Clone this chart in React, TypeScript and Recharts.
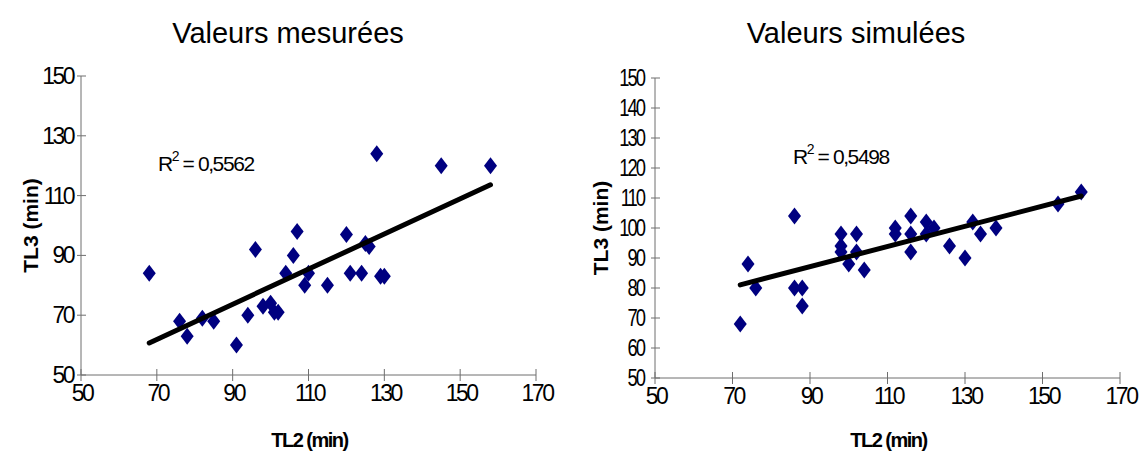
import React from "react";
import { Scatter, ScatterChart, XAxis, YAxis } from "recharts";

// measured values (TL2, TL3) in minutes
const mesuresTL2 = [68, 76, 78, 82, 85, 91, 94, 96, 98, 100, 101, 102, 104, 106, 107, 109, 110, 115, 120, 121, 124, 125, 126, 128, 129, 130, 145, 158];
const mesuresTL3 = [84, 68, 63, 69, 68, 60, 70, 92, 73, 74, 71, 71, 84, 90, 98, 80, 84, 80, 97, 84, 84, 94, 93, 124, 83, 83, 120, 120];

// simulated values
const simulesTL2 = [72, 74, 76, 86, 86, 88, 88, 98, 98, 98, 100, 102, 102, 104, 112, 112, 116, 116, 116, 120, 120, 122, 126, 130, 132, 134, 138, 154, 160];
const simulesTL3 = [68, 88, 80, 104, 80, 80, 74, 98, 94, 92, 88, 98, 92, 86, 100, 98, 104, 98, 92, 102, 98, 100, 94, 90, 102, 98, 100, 108, 112];

const xTicks = [50, 70, 90, 110, 130, 150, 170];
const mesuresYTicks = [50, 70, 90, 110, 130, 150];
const simulesYTicks = [50, 60, 70, 80, 90, 100, 110, 120, 130, 140, 150];

const r2Mesures = "0,5562";
const r2Simules = "0,5498";

const FONT = "'Liberation Sans', Arial, sans-serif";
const AXIS = "#6e6e6e";
const NAVY = "#000080";

type Pt = { x: number; y: number };

const toPoints = (xs: number[], ys: number[]): Pt[] => xs.map((x, i) => ({ x, y: ys[i] }));

// least squares trend line over the data range
function trend(xs: number[], ys: number[]): Pt[] {
  const n = xs.length;
  const mx = xs.reduce((a, b) => a + b, 0) / n;
  const my = ys.reduce((a, b) => a + b, 0) / n;
  let sxy = 0;
  let sxx = 0;
  xs.forEach((x, i) => {
    sxy += (x - mx) * (ys[i] - my);
    sxx += (x - mx) * (x - mx);
  });
  const b = sxy / sxx;
  const a = my - b * mx;
  const x0 = Math.min(...xs);
  const x1 = Math.max(...xs);
  return [
    { x: x0, y: a + b * x0 },
    { x: x1, y: a + b * x1 },
  ];
}

const Diamond = (props: any) => {
  const { cx, cy } = props;
  if (cx == null || cy == null) return <g />;
  return (
    <polygon
      points={`${cx},${cy - 8.5} ${cx + 6.5},${cy} ${cx},${cy + 8.5} ${cx - 6.5},${cy}`}
      fill={NAVY}
    />
  );
};

const YTick = (props: any) => {
  const { x, y, payload, tickSize, tickMargin, sx } = props;
  const ax = x + tickSize + tickMargin;
  return (
    <g>
      <line x1={ax} x2={ax + 5} y1={y} y2={y} stroke={AXIS} />
      <text
        transform={`translate(${x},${y}) scale(${sx},1)`}
        textAnchor="end"
        dy={8}
        fontFamily={FONT}
        fontSize={23}
        letterSpacing={-2.5}
        fill="#000"
      >
        {payload.value}
      </text>
    </g>
  );
};

const XTick = (props: any) => {
  const { x, y, payload, tickSize, tickMargin } = props;
  const ay = y - tickSize - tickMargin;
  return (
    <g>
      <line x1={x} x2={x} y1={ay} y2={ay - 6} stroke={AXIS} />
      <text
        x={x + 1}
        y={y}
        dy={19}
        textAnchor="middle"
        fontFamily={FONT}
        fontSize={23}
        letterSpacing={-2.5}
        fill="#000"
      >
        {payload.value}
      </text>
    </g>
  );
};

function Panel({
  left,
  width,
  margin,
  xs,
  ys,
  yTicks,
  title,
  titleX,
  yLabelX,
  r2,
  r2X,
  r2Y,
  yTickMargin,
  ySx,
}: {
  left: number;
  width: number;
  margin: { top: number; right: number; bottom: number; left: number };
  xs: number[];
  ys: number[];
  yTicks: number[];
  title: string;
  titleX: number;
  yLabelX: number;
  r2: string;
  r2X: number;
  r2Y: number;
  yTickMargin: number;
  ySx: number;
}) {
  const plotLeft = margin.left + 60;
  const plotRight = width - margin.right;
  const plotTop = margin.top;
  const plotBottom = 475 - margin.bottom - 30;
  return (
    <div style={{ position: "absolute", left, top: 0, width, height: 475 }}>
      <ScatterChart width={width} height={475} margin={margin}>
        <XAxis
          type="number"
          dataKey="x"
          domain={[50, 170]}
          ticks={xTicks}
          interval={0}
          height={30}
          tickSize={6}
          tickMargin={1}
          stroke={AXIS}
          tickLine={{ stroke: AXIS }}
          tick={(p: any) => <XTick {...p} tickSize={6} tickMargin={1} />}
        />
        <YAxis
          type="number"
          dataKey="y"
          domain={[50, 150]}
          ticks={yTicks}
          interval={0}
          width={60}
          tickSize={4}
          tickMargin={yTickMargin}
          stroke={AXIS}
          tickLine={{ stroke: AXIS }}
          tick={(p: any) => <YTick {...p} tickSize={4} tickMargin={yTickMargin} sx={ySx} />}
        />
        <Scatter data={toPoints(xs, ys)} shape={Diamond} isAnimationActive={false} />
        <Scatter
          data={trend(xs, ys)}
          shape={() => <g />}
          line={{ stroke: "#000", strokeWidth: 5, strokeLinecap: "round" }}
          lineType="joint"
          isAnimationActive={false}
        />
      </ScatterChart>
      <svg
        width={width}
        height={475}
        style={{ position: "absolute", left: 0, top: 0, pointerEvents: "none" }}
      >
        <text x={titleX} y={43} textAnchor="middle" fontFamily={FONT} fontSize={29} fill="#000">
          {title}
        </text>
        <text
          transform={`translate(${yLabelX},${(plotTop + plotBottom) / 2}) rotate(-90)`}
          textAnchor="middle"
          dominantBaseline="central"
          fontFamily={FONT}
          fontSize={21}
          fontWeight="bold"
          fill="#000"
        >
          TL3 (min)
        </text>
        <text
          x={(plotLeft + plotRight) / 2 + 1}
          y={447}
          textAnchor="middle"
          fontFamily={FONT}
          fontSize={20}
          fontWeight="bold"
          letterSpacing={-1.5}
          fill="#000"
        >
          TL2 (min)
        </text>
        <text
          x={r2X}
          y={r2Y}
          fontFamily={FONT}
          fontSize={21}
          letterSpacing={-1.4}
          fill="#000"
        >
          R
          <tspan dx={0} dy={-10} fontSize={14}>
            2
          </tspan>
          <tspan dy={10}> = {r2}</tspan>
        </text>
      </svg>
    </div>
  );
}

export default function App() {
  return (
    <div
      style={{
        position: "absolute",
        left: 0,
        top: 0,
        width: 1139,
        height: 475,
        background: "#fff",
        overflow: "hidden",
      }}
    >
      <Panel
        left={0}
        width={560}
        margin={{ top: 76, right: 24, bottom: 70, left: 21 }}
        xs={mesuresTL2}
        ys={mesuresTL3}
        yTicks={mesuresYTicks}
        title="Valeurs mesurées"
        titleX={288}
        yLabelX={30}
        r2={r2Mesures}
        r2X={158}
        r2Y={171}
        yTickMargin={4}
        ySx={1}
      />
      <Panel
        left={570}
        width={569}
        margin={{ top: 78, right: 19, bottom: 67, left: 25 }}
        xs={simulesTL2}
        ys={simulesTL3}
        yTicks={simulesYTicks}
        title="Valeurs simulées"
        titleX={286}
        yLabelX={30}
        r2={r2Simules}
        r2X={223}
        r2Y={164}
        yTickMargin={7}
        ySx={0.8}
      />
    </div>
  );
}
